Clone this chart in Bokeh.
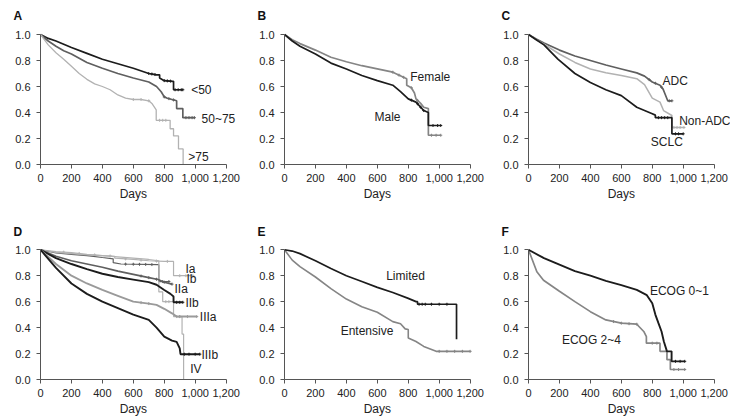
import numpy as np
from bokeh.plotting import figure
from bokeh.layouts import column, row
from bokeh.models import Range1d, FixedTicker, NumeralTickFormatter, Title
from bokeh.core.properties import value
from bokeh.embed import file_html
from bokeh.resources import INLINE

# ---- axis ticks ----
x_ticks = [0, 200, 400, 600, 800, 1000, 1200]
y_ticks = [0.0, 0.2, 0.4, 0.6, 0.8, 1.0]

# ---- A: age ----
age_lt50_days = [0, 50, 100, 150, 200, 300, 400, 500, 600, 700, 750, 770, 770, 800, 855, 860, 860, 920]
age_lt50_surv = [1.0, 0.97, 0.95, 0.925, 0.90, 0.855, 0.81, 0.775, 0.74, 0.70, 0.69, 0.69, 0.665, 0.645, 0.64, 0.64, 0.575, 0.575]
age_lt50_cens = [700, 720, 740, 800, 820, 840, 870, 890, 910, 920]
age_50_75_days = [0, 50, 100, 150, 200, 300, 400, 500, 600, 700, 750, 780, 800, 820, 850, 880, 880, 920, 920, 995]
age_50_75_surv = [1.0, 0.95, 0.91, 0.875, 0.85, 0.785, 0.74, 0.70, 0.665, 0.635, 0.60, 0.56, 0.52, 0.51, 0.50, 0.49, 0.43, 0.43, 0.36, 0.36]
age_50_75_cens = [800, 830, 860, 940, 960, 980, 995]
age_gt75_days = [0, 50, 100, 150, 200, 250, 300, 350, 400, 450, 500, 550, 600, 650, 700, 720, 748, 748, 838, 838, 860, 860, 892, 892, 922, 922]
age_gt75_surv = [1.0, 0.92, 0.86, 0.81, 0.755, 0.70, 0.655, 0.62, 0.60, 0.575, 0.535, 0.51, 0.50, 0.50, 0.49, 0.47, 0.42, 0.34, 0.34, 0.275, 0.275, 0.22, 0.22, 0.12, 0.12, 0.0]
age_gt75_cens = [600, 650, 700, 770, 790, 810]

# ---- B: sex ----
female_days = [0, 50, 100, 200, 300, 400, 500, 600, 700, 780, 790, 790, 820, 840, 850, 880, 900, 930, 930, 1010]
female_surv = [1.0, 0.96, 0.93, 0.88, 0.825, 0.79, 0.76, 0.735, 0.71, 0.665, 0.66, 0.61, 0.59, 0.55, 0.505, 0.47, 0.44, 0.43, 0.225, 0.225]
female_cens = [700, 740, 770, 820, 860, 950, 980, 1010]
male_days = [0, 50, 100, 200, 300, 400, 500, 600, 700, 750, 800, 850, 900, 930, 930, 1010]
male_surv = [1.0, 0.95, 0.91, 0.85, 0.78, 0.735, 0.685, 0.645, 0.61, 0.56, 0.505, 0.48, 0.415, 0.40, 0.30, 0.30]
male_cens = [820, 860, 880, 900, 960, 990, 1010]

# ---- C: histology ----
adc_days = [0, 50, 100, 200, 300, 400, 500, 600, 700, 750, 800, 850, 870, 880, 900, 927]
adc_surv = [1.0, 0.965, 0.935, 0.88, 0.835, 0.80, 0.765, 0.735, 0.705, 0.68, 0.635, 0.61, 0.58, 0.55, 0.49, 0.49]
adc_cens = [780, 820, 860, 910, 927]
nonadc_days = [0, 50, 100, 200, 300, 400, 500, 600, 700, 750, 800, 850, 873, 927, 927, 1005]
nonadc_surv = [1.0, 0.96, 0.925, 0.85, 0.785, 0.735, 0.705, 0.685, 0.66, 0.615, 0.51, 0.48, 0.415, 0.377, 0.285, 0.285]
nonadc_cens = [940, 960, 980, 1005]
sclc_days = [0, 50, 100, 190, 300, 400, 500, 600, 700, 750, 800, 820, 820, 927, 927, 1000]
sclc_surv = [1.0, 0.96, 0.92, 0.81, 0.70, 0.63, 0.575, 0.53, 0.44, 0.415, 0.39, 0.38, 0.36, 0.36, 0.236, 0.236]
sclc_cens = [840, 860, 880, 900, 950, 970, 1000]

# ---- D: stage ----
ia_days = [0, 100, 200, 300, 400, 480, 480, 600, 700, 800, 860, 860, 985]
ia_surv = [1.0, 0.985, 0.978, 0.965, 0.955, 0.95, 0.935, 0.925, 0.915, 0.91, 0.91, 0.80, 0.80]
ia_cens = [150, 250, 350, 450, 550, 650, 750, 820, 900, 940, 985]
ib_days = [0, 100, 200, 300, 400, 470, 470, 520, 760, 765, 765, 830]
ib_surv = [1.0, 0.975, 0.965, 0.955, 0.94, 0.93, 0.90, 0.89, 0.885, 0.885, 0.755, 0.755]
ib_cens = [550, 600, 640, 680, 720, 790, 830]
iia_days = [0, 100, 200, 300, 400, 500, 600, 700, 760, 800, 850]
iia_surv = [1.0, 0.95, 0.915, 0.89, 0.865, 0.835, 0.81, 0.785, 0.77, 0.75, 0.735]
iia_cens = [650, 700, 750, 800, 850]
iib_days = [0, 100, 200, 300, 400, 500, 600, 700, 750, 800, 840, 860, 860, 920]
iib_surv = [1.0, 0.935, 0.89, 0.85, 0.815, 0.79, 0.77, 0.75, 0.73, 0.69, 0.66, 0.64, 0.595, 0.595]
iib_cens = [880, 900, 920]
iiia_days = [0, 100, 200, 300, 400, 500, 600, 700, 750, 800, 850, 880, 1010]
iiia_surv = [1.0, 0.89, 0.80, 0.74, 0.69, 0.645, 0.60, 0.585, 0.575, 0.545, 0.51, 0.485, 0.485]
iiia_cens = [650, 700, 900, 950, 1010]
iiib_days = [0, 100, 200, 300, 400, 500, 600, 700, 750, 800, 850, 880, 900, 905, 1030]
iiib_surv = [1.0, 0.86, 0.74, 0.66, 0.60, 0.55, 0.50, 0.46, 0.40, 0.33, 0.30, 0.29, 0.24, 0.195, 0.195]
iiib_cens = [930, 960, 1000, 1030]
iv_days = [0, 100, 200, 300, 400, 500, 600, 700, 765, 765, 790, 790, 860, 860, 915, 915, 925, 925]
iv_surv = [1.0, 0.98, 0.97, 0.96, 0.955, 0.945, 0.935, 0.925, 0.915, 0.675, 0.675, 0.60, 0.60, 0.485, 0.485, 0.35, 0.35, 0.0]
iv_cens = [810, 830, 880, 900]

# ---- E: extent of disease ----
limited_days = [0, 50, 100, 200, 300, 400, 500, 600, 700, 800, 850, 860, 860, 1112, 1112]
limited_surv = [1.0, 0.99, 0.97, 0.915, 0.855, 0.80, 0.755, 0.71, 0.67, 0.625, 0.60, 0.60, 0.58, 0.58, 0.31]
limited_cens = [870, 890, 910, 950, 1000, 1050]
extensive_days = [0, 50, 100, 200, 300, 400, 500, 600, 700, 750, 780, 800, 800, 850, 900, 980, 1200]
extensive_surv = [1.0, 0.92, 0.87, 0.79, 0.70, 0.62, 0.56, 0.518, 0.446, 0.43, 0.39, 0.385, 0.32, 0.293, 0.255, 0.217, 0.217]
extensive_cens = [1000, 1050, 1100, 1150, 1200]

# ---- F: performance status ----
ecog01_days = [0, 100, 200, 300, 400, 500, 600, 700, 765, 800, 820, 840, 860, 875, 895, 925, 925, 1010]
ecog01_surv = [1.0, 0.935, 0.885, 0.835, 0.80, 0.76, 0.727, 0.69, 0.65, 0.587, 0.50, 0.434, 0.37, 0.293, 0.217, 0.217, 0.14, 0.14]
ecog01_cens = [950, 980, 1010]
ecog24_days = [0, 54, 97, 200, 300, 400, 500, 600, 700, 745, 762, 762, 850, 850, 895, 895, 917, 917, 1010]
ecog24_surv = [1.0, 0.83, 0.765, 0.68, 0.60, 0.523, 0.459, 0.434, 0.426, 0.37, 0.33, 0.28, 0.28, 0.217, 0.217, 0.153, 0.153, 0.077, 0.077]
ecog24_cens = [550, 600, 650, 700, 800, 830, 940, 970, 1010]

BLACK = "#1c1c1c"
DARK = "#5f5f5f"
MID = "#858585"
LIGHT = "#b2b2b2"
FONT = "Liberation Sans"
TEXT = "#222222"
AXIS = "#555555"
FS = "12px"
TICK_FS = "11px"

LEFT = 40          # space for the y tick labels
TOP = 26           # space above the plotting area
PX_PER_DAY = 0.1547

panels = [
    dict(letter="A", w=244, h=215, bottom=51, px=130.0, letter_gap=8,
         curves=[(age_lt50_days, age_lt50_surv, age_lt50_cens, BLACK, 1.7),
                 (age_50_75_days, age_50_75_surv, age_50_75_cens, DARK, 1.7),
                 (age_gt75_days, age_gt75_surv, age_gt75_cens, LIGHT, 1.3)],
         labels=[("<50", 974, 0.57), ("50~75", 1041, 0.351), (">75", 955, 0.056)]),
    dict(letter="B", w=244, h=215, bottom=51, px=130.0, letter_gap=8,
         curves=[(female_days, female_surv, female_cens, MID, 1.7),
                 (male_days, male_surv, male_cens, BLACK, 1.7)],
         labels=[("Female", 813, 0.672), ("Male", 582, 0.369)]),
    dict(letter="C", w=242, h=215, bottom=51, px=130.0, letter_gap=8,
         curves=[(adc_days, adc_surv, adc_cens, DARK, 1.7),
                 (nonadc_days, nonadc_surv, nonadc_cens, LIGHT, 1.5),
                 (sclc_days, sclc_surv, sclc_cens, BLACK, 1.7)],
         labels=[("ADC", 866, 0.646), ("Non-ADC", 974, 0.338), ("SCLC", 791, 0.172)]),
    dict(letter="D", w=244, h=201, bottom=36, px=130.7, letter_gap=5,
         curves=[(ia_days, ia_surv, ia_cens, LIGHT, 1.2),
                 (ib_days, ib_surv, ib_cens, DARK, 1.2),
                 (iv_days, iv_surv, iv_cens, LIGHT, 1.2),
                 (iia_days, iia_surv, iia_cens, DARK, 1.6),
                 (iib_days, iib_surv, iib_cens, BLACK, 1.9),
                 (iiia_days, iiia_surv, iiia_cens, "#9a9a9a", 1.9),
                 (iiib_days, iiib_surv, iiib_cens, BLACK, 1.9)],
         labels=[("Ia", 937, 0.85), ("Ib", 943, 0.778), ("IIa", 866, 0.70), ("IIb", 937, 0.587),
                 ("IIIa", 1030, 0.484), ("IIIb", 1040, 0.191), ("IV", 968, 0.084)]),
    dict(letter="E", w=244, h=201, bottom=36, px=130.7, letter_gap=5,
         curves=[(extensive_days, extensive_surv, extensive_cens, MID, 1.6),
                 (limited_days, limited_surv, limited_cens, BLACK, 1.7)],
         labels=[("Limited", 657, 0.796), ("Entensive", 363, 0.375)]),
    dict(letter="F", w=242, h=201, bottom=36, px=130.7, letter_gap=5,
         curves=[(ecog24_days, ecog24_surv, ecog24_cens, MID, 1.7),
                 (ecog01_days, ecog01_surv, ecog01_cens, BLACK, 1.9)],
         labels=[("ECOG 0~1", 785, 0.681), ("ECOG 2~4", 216, 0.306)]),
]


def make_panel(cfg):
    frame_w = cfg["w"] - LEFT
    frame_h = cfg["h"] - TOP - cfg["bottom"]
    p = figure(width=cfg["w"], height=cfg["h"],
               x_range=Range1d(0, frame_w / PX_PER_DAY),
               y_range=Range1d(0, frame_h / cfg["px"]),
               output_backend="svg", toolbar_location=None,
               min_border_left=LEFT, min_border_right=0,
               min_border_top=TOP, min_border_bottom=cfg["bottom"])
    p.outline_line_color = None
    p.grid.visible = False
    p.background_fill_color = "white"
    p.border_fill_color = "white"

    # panel letter as a left-aligned title pulled out over the tick labels
    p.title.text = cfg["letter"]
    p.title.align = "left"
    p.title.offset = -27
    p.title.standoff = cfg["letter_gap"]
    p.title.text_font = FONT
    p.title.text_font_size = "12px"
    p.title.text_font_style = "bold"
    p.title.text_color = "#111111"

    for ax, ticks, fmt, bounds in ((p.xaxis[0], x_ticks, "0,0", (0, 1200)),
                                   (p.yaxis[0], y_ticks, "0.0", (0, 1))):
        ax.ticker = FixedTicker(ticks=ticks)
        ax.formatter = NumeralTickFormatter(format=fmt)
        ax.bounds = bounds
        ax.axis_line_color = AXIS
        ax.major_tick_line_color = AXIS
        ax.minor_tick_line_color = None
        ax.major_tick_out = 4
        ax.major_tick_in = 0
        ax.major_label_text_font = FONT
        ax.major_label_text_font_size = TICK_FS
        ax.major_label_text_color = TEXT
    p.xaxis.major_label_standoff = 5
    p.yaxis.major_label_standoff = 6

    # "Days" centred under the 0-1,200 span of the axis (not the whole frame)
    days_w = 27.3
    p.add_layout(Title(text="Days", align="left", offset=600 * PX_PER_DAY - days_w / 2,
                       standoff=1, text_font=FONT, text_font_size=FS,
                       text_font_style="normal", text_color=TEXT), "below")

    for days, surv, cens, color, width in cfg["curves"]:
        p.line(days, surv, line_color=color, line_width=width)
        cy = np.interp(cens, days, surv)
        p.scatter(cens, cy, marker="cross", size=3, line_color=color, line_width=1)

    for txt, x, y in cfg["labels"]:
        p.text([x], [y], text=[txt], text_font=value(FONT), text_font_size=FS,
               text_color=TEXT, text_align="left", text_baseline="middle")
    return p


figs = [make_panel(c) for c in panels]
layout = column(row(*figs[:3]), row(*figs[3:]))

with open("out.html", "w") as f:
    f.write(file_html(layout, INLINE))
